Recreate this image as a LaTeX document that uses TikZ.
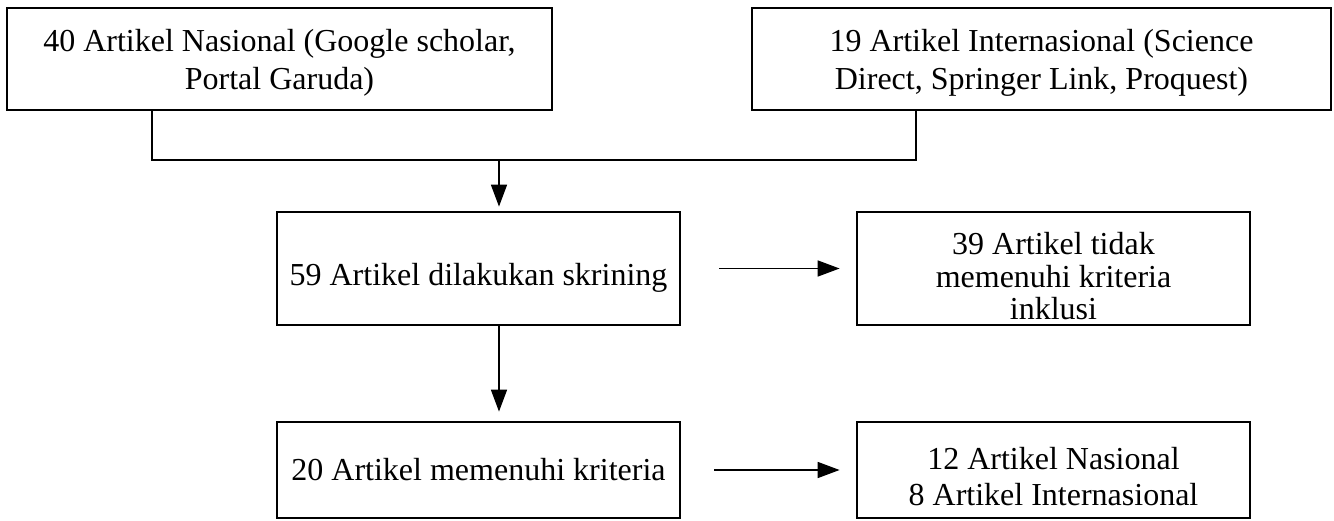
\documentclass[tikz,border=0pt]{standalone}
\usepackage{fontspec}
\setmainfont{Liberation Serif}
\usetikzlibrary{arrows.meta}
\newcommand{\lowr}[1]{\rule{0pt}{#1}}
\begin{document}
\begin{tikzpicture}[x=0.5pt,y=-0.5pt,
  box/.style={draw, line width=1.4pt, inner sep=0pt, align=center,
    font=\fontsize{16}{19}\selectfont},
  link/.style={line width=1pt},
  arr/.style={line width=0.8pt, -{Triangle[width=8pt,length=11pt]}}]
\useasboundingbox (0,0) rectangle (1334,520);
\node[box, minimum width=272.5pt, minimum height=51pt] (A) at (279.5,59)
  {\lowr{15pt}40 Artikel Nasional (Google scholar,\\Portal Garuda)};
\node[box, minimum width=289.5pt, minimum height=51pt] (B) at (1041.5,59)
  {\lowr{15pt}19 Artikel Internasional (Science\\Direct, Springer Link, Proquest)};
\node[box, minimum width=201.5pt, minimum height=56.5pt] (C) at (478.5,268.5)
  {\lowr{20pt}59 Artikel dilakukan skrining};
\node[box, minimum width=196.5pt, minimum height=56.5pt,
  font=\fontsize{16}{16.3}\selectfont] (D) at (1053.5,268.5)
  {\lowr{19pt}39 Artikel tidak\\memenuhi kriteria\\inklusi};
\node[box, minimum width=201.5pt, minimum height=48pt] (E) at (478.5,470)
  {20 Artikel memenuhi kriteria};
\node[box, minimum width=196.5pt, minimum height=48pt,
  font=\fontsize{16}{18}\selectfont] (F) at (1053.5,470)
  {\lowr{18pt}12 Artikel Nasional\\8 Artikel Internasional};
\coordinate (jl) at (152,160);
\coordinate (jr) at (916,160);
\coordinate (jm) at (499,160);
\draw[link] (A.south -| jl) -- (jl) -- (jr) -- (B.south -| jr);
\draw[arr, shorten >=2pt] (jm) -- (C.north -| jm);
\draw[arr, shorten >=4.5pt] (C.south -| jm) -- (E.north -| jm);
\draw[arr, shorten <=19pt, shorten >=8pt] (C.east) -- (D.west);
\draw[arr, shorten <=16.5pt, shorten >=8pt] (E.east) -- (F.west);
\end{tikzpicture}
\end{document}
